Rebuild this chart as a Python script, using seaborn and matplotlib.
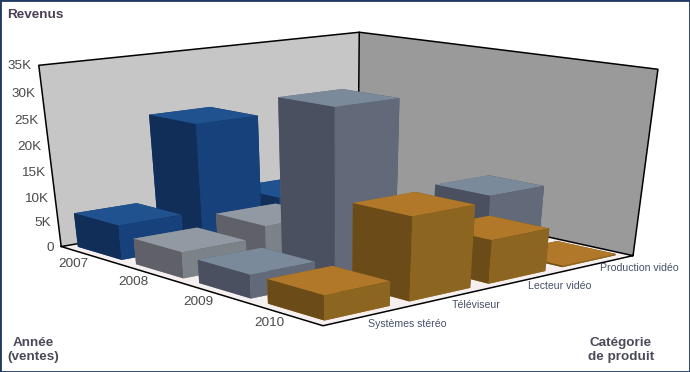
import numpy as np
import matplotlib
matplotlib.use('Agg')
import matplotlib.pyplot as plt
import seaborn as sns
from matplotlib.patches import Rectangle
from mpl_toolkits.mplot3d import proj3d
from mpl_toolkits.mplot3d.art3d import Poly3DCollection

sns.set_style('white')
plt.rcParams['font.family'] = ['Liberation Sans', 'DejaVu Sans']

years = ['2007', '2008', '2009', '2010']
categories = ['Systèmes stéréo', 'Téléviseur', 'Lecteur vidéo', 'Production vidéo']
rev_2007 = [6.9, 24, 7, 0]
rev_2008 = [5.1, 7.2, 0, 0]
rev_2009 = [4.5, 31.6, 0, 10.8]
rev_2010 = [4.6, 15.5, 8.3, 0.3]
revenues = [rev_2007, rev_2008, rev_2009, rev_2010]
z_ticks = [0, 5, 10, 15, 20, 25, 30, 35]

W, H = 690, 372

fig = plt.figure(figsize=(W / 100, H / 100), dpi=100)
# 3d axes are forced square, so make the square cover the whole figure
ax = fig.add_axes([0, (H - W) / 2 / H, 1, W / H], projection='3d')
ax.set_xlim(0, 4)
ax.set_ylim(0, 4)
ax.set_zlim(0, 35)
ax.set_autoscale_on(False)
ax.set_axis_off()
ax.computed_zorder = False
ax.apply_aspect()

# the cube corners as they sit in the picture, the camera is solved from them
corners_3d = np.array([[0, 4, 0], [0, 4, 35], [4, 4, 35], [4, 4, 0], [4, 0, 35], [4, 0, 0], [0, 0, 0]], float)
corners_px = np.array([[61, 244], [39, 66], [359, 31], [358, 198], [658, 70], [633, 253], [323, 328]], float)
corners_px[:, 1] = H - corners_px[:, 1]
uv = ax.transData.inverted().transform(corners_px)

rows = []
for (x, y, z), (u, v) in zip(corners_3d, uv):
    rows.append([x, y, z, 1, 0, 0, 0, 0, -u * x, -u * y, -u * z, -u])
    rows.append([0, 0, 0, 0, x, y, z, 1, -v * x, -v * y, -v * z, -v])
P = np.linalg.svd(np.array(rows))[2][-1].reshape(3, 4)
P = P / (P[2] @ [2, 2, 17, 1])
# third row only orders the faces, kept negative like a real camera depth
M = np.vstack([P[0], P[1], [0.01, 0.01, -0.0005, -0.5], P[2]])
ax.get_proj = lambda: M
ax.M = M

walls = [([[0, 4, 0], [4, 4, 0], [4, 4, 35], [0, 4, 35]], '#c6c6c6'),
         ([[4, 0, 0], [4, 4, 0], [4, 4, 35], [4, 0, 35]], '#9a9a9a'),
         ([[0, 0, 0], [4, 0, 0], [4, 4, 0], [0, 4, 0]], '#f6eff0')]
for verts, col in walls:
    ax.add_collection3d(Poly3DCollection([verts], facecolors=col, edgecolors='none', zorder=0))

edges = [[(0, 4, 0), (0, 4, 35), (4, 4, 35), (4, 0, 35), (4, 0, 0), (0, 0, 0), (0, 4, 0), (4, 4, 0), (4, 0, 0)],
         [(4, 4, 0), (4, 4, 35)]]
for e in edges:
    e = np.array(e)
    ax.plot(e[:, 0], e[:, 1], e[:, 2], color='black', lw=1.1, zorder=1)

right_face = sns.color_palette(['#17417a', '#7b8288', '#626a7a', '#8c6520'])
left_face = sns.color_palette(['#102e57', '#5f6068', '#4a5060', '#6b4c18'])
top_face = sns.color_palette(['#20528f', '#9199a3', '#7a8a9a', '#b07828'])
width = 0.76
margin = (1 - width) / 2
cells = []
for i, row in enumerate(revenues):
    for j, v in enumerate(row):
        if v > 0:
            cells.append((j + (3 - i), i, j, v))
for depth, i, j, v in sorted(cells, reverse=True):
    faces = [top_face[i], top_face[i], right_face[i], right_face[i], left_face[i], left_face[i]]
    ax.bar3d(j + margin, 3 - i + margin, 0, width, width, v, color=faces, shade=False,
             linewidth=0, zorder=10 - depth)


def tick_label(x, y, z, text, dx, dy, **kw):
    u, v, _ = proj3d.proj_transform(x, y, z, M)
    ax.annotate(text, xy=(u, v), xytext=(dx, dy), textcoords='offset pixels', va='center', zorder=30, **kw)


for z in z_ticks:
    tick_label(0, 4, z, '0' if z == 0 else f'{z}K', -7, -1, ha='right', fontsize=9.7, color='#4a4a4a')
for i, y in enumerate(years):
    tick_label(0, 3 - i + 0.5, 0, y, -16, -9, ha='center', fontsize=9.7, color='#4a4a4a')
cat_dx = [40, 26, 33, 40]
cat_dy = [-8, -8, -6, -5]
for j, c in enumerate(categories):
    tick_label(j + 0.5, 0, 0, c, cat_dx[j], cat_dy[j], ha='center', fontsize=7.6, color='#44506a')

fig.text(7 / W, 1 - 15 / H, 'Revenus', fontsize=9.7, fontweight='bold', color='#4a3f55', va='center')
fig.text(33 / W, 1 - 350 / H, 'Année\n(ventes)', fontsize=9.7, fontweight='bold', color='#4a4a5a',
         va='center', ha='center', multialignment='center', linespacing=1.3)
fig.text(621 / W, 1 - 350 / H, 'Catégorie\nde produit', fontsize=9.7, fontweight='bold', color='#4a4a5a',
         va='center', ha='center', multialignment='center', linespacing=1.3)
fig.add_artist(Rectangle((0, 0), 1, 1, transform=fig.transFigure, fill=False, edgecolor='#1f3864', lw=2))

fig.savefig('out.png', dpi=100)
